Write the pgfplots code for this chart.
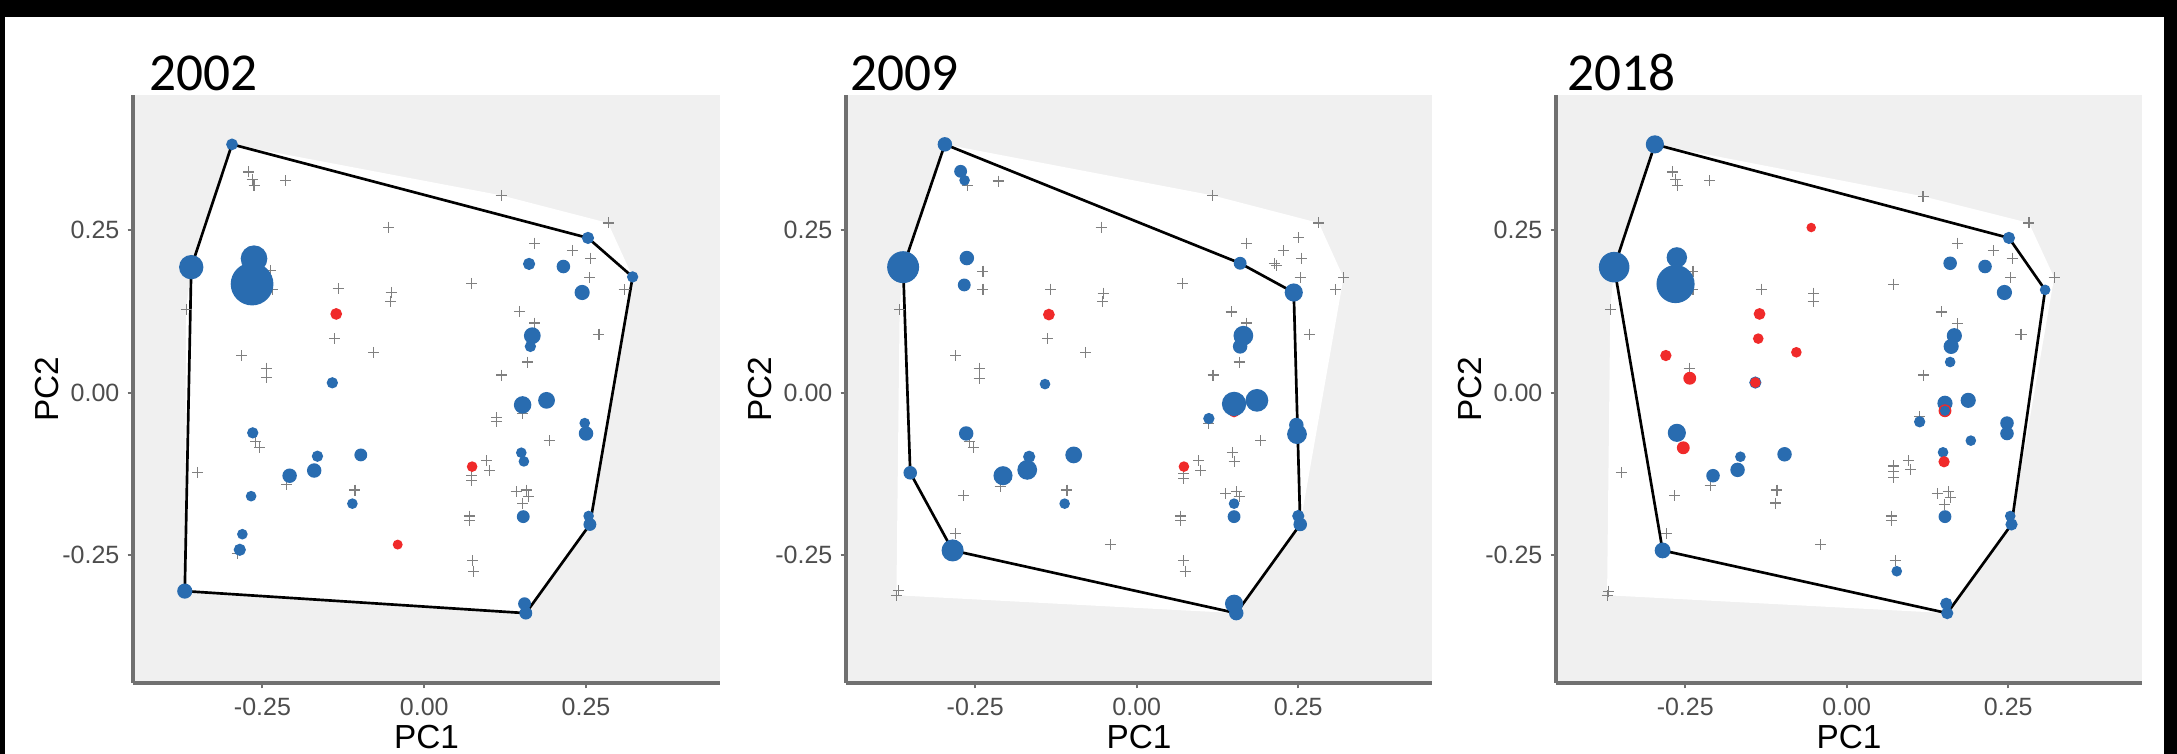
\documentclass[border=0pt]{standalone}
\usepackage{pgfplots}
\pgfplotsset{compat=1.18}
\usepackage{fontspec}
\newfontfamily\arial{Liberation Sans}
\newfontfamily\calibri{Carlito}
\definecolor{bggray}{RGB}{240,240,240}
\definecolor{axgray}{RGB}{112,112,112}
\definecolor{tickgray}{RGB}{77,77,77}
\definecolor{crossgray}{RGB}{128,128,128}
\definecolor{cblue}{RGB}{41,108,176}
\definecolor{cred}{RGB}{240,42,42}
\pgfplotsset{
 panel/.style={
  scale only axis, height=176.4pt, width=175.8pt, anchor=south west,
  xmin=-0.45, xmax=0.457, ymin=-0.447, ymax=0.458,
  axis x line*=bottom, axis y line*=left,
  axis line style={line width=1pt, draw=axgray, -},
  axis background/.style={fill=bggray},
  xtick={-0.25,0,0.25}, xticklabels={-0.25,0.00,0.25},
  ytick={-0.25,0,0.25}, yticklabels={-0.25,0.00,0.25},
  tick align=outside, major tick length=1.6pt,
  tick style={line width=0.6pt, draw=axgray},
  ticklabel style={font=\fontsize{7.5}{9}\selectfont\arial, text=tickgray, inner sep=1pt},
  xticklabel style={yshift=-1.6pt},
  yticklabel style={xshift=-1.3pt},
  xlabel={PC1}, ylabel={PC2},
  label style={font=\fontsize{10}{12}\selectfont\arial, text=black},
  xlabel style={at={([yshift=-16.2pt]axis description cs:0.5,0)}, anchor=center},
  ylabel style={at={([xshift=-25.8pt]axis description cs:0,0.5)}, anchor=center},
 },
 hullw/.style={fill=white, draw=none, mark=none},
 hullb/.style={black, line width=0.8pt, line join=round, mark=none},
 crosses/.style={only marks, mark=+, mark size=1.65pt, draw=crossgray, mark options={line width=0.32pt, draw=crossgray}},
 bluepts/.style={scatter, only marks, mark=*, point meta=explicit,
   scatter/use mapped color={draw=cblue, fill=cblue},
   visualization depends on={0.345*\thisrow{r} \as \rad},
   scatter/@pre marker code/.append style={/tikz/mark size=\rad}},
 redpts/.style={scatter, only marks, mark=*, point meta=explicit,
   scatter/use mapped color={draw=cred, fill=cred},
   visualization depends on={0.345*\thisrow{r} \as \rad},
   scatter/@pre marker code/.append style={/tikz/mark size=\rad}},
}
\begin{document}
\begin{tikzpicture}
\useasboundingbox (0,0) rectangle (653.1pt,226.2pt);
\fill[black] (0,0) rectangle (653.1pt,226.2pt);
\fill[white] (1.5pt,0) rectangle (649.2pt,221.1pt);
\node[anchor=base west, inner sep=0pt, font=\fontsize{16}{19}\selectfont\calibri] at (44.7pt,198.9pt) {2002};
\node[anchor=base west, inner sep=0pt, font=\fontsize{16}{19}\selectfont\calibri] at (255pt,198.9pt) {2009};
\node[anchor=base west, inner sep=0pt, font=\fontsize{16}{19}\selectfont\calibri] at (470.1pt,198.9pt) {2018};
% ---------------- 2002 ----------------
\begin{axis}[panel, at={(39.9pt,21.3pt)}, width=176.1pt]
\addplot[hullw] coordinates {(-0.297,0.382) (0.119,0.3035) (0.284,0.261) (0.322,0.178) (0.256,-0.203) (0.157,-0.3395) (-0.370,-0.3056) (-0.368,0.1276) (-0.360,0.193) (-0.297,0.382)};
\addplot[hullb] coordinates {(-0.297,0.382) (0.253,0.238) (0.322,0.178) (0.256,-0.203) (0.157,-0.3395) (-0.370,-0.3056) (-0.360,0.193) (-0.297,0.382)};
\addplot[crosses] table {
x y
-0.271 0.3395
-0.266 0.328
-0.263 0.319
-0.214 0.326
0.119 0.3035
-0.055 0.2546
0.284 0.261
0.171 0.230
0.229 0.219
0.257 0.207
0.256 0.177
0.0735 0.168
-0.133 0.160
-0.051 0.154
0.309 0.158
-0.238 0.188
-0.234 0.159
-0.368 0.1276
-0.052 0.140
-0.138 0.083
-0.078 0.062
-0.282 0.057
-0.244 0.0376
-0.244 0.023
0.147 0.125
0.171 0.107
0.160 0.047
0.120 0.027
0.269 0.089
0.270 0.090
0.112 -0.0386
0.112 -0.045
0.193 -0.074
-0.260 -0.0756
-0.254 -0.084
-0.350 -0.123
-0.213 -0.1415
-0.107 -0.150
0.0967 -0.105
0.101 -0.120
0.0735 -0.127
0.0735 -0.135
0.142 -0.152
0.158 -0.150
0.161 -0.160
0.152 -0.171
0.0706 -0.190
0.0706 -0.197
-0.289 -0.247
0.0747 -0.259
0.0765 -0.275
0.152 -0.032
};
\addplot[bluepts] table[meta=r] {
x y r
-0.297 0.382 4.5
-0.360 0.193 10
-0.263 0.206 11
-0.266 0.167 18
0.253 0.238 4.7
0.322 0.178 4.3
0.162 0.198 4.7
0.215 0.194 5.3
0.244 0.154 6
-0.142 0.015 4.3
0.167 0.0875 6.7
0.164 0.071 4.3
0.152 -0.019 7
0.189 -0.012 6.7
0.248 -0.047 4
0.250 -0.063 5.7
-0.265 -0.062 4.3
-0.165 -0.098 4.3
-0.098 -0.096 5
-0.170 -0.120 5.7
-0.208 -0.128 5.7
0.150 -0.0926 4
0.154 -0.106 4
-0.2675 -0.1595 4
-0.111 -0.171 4
0.153 -0.191 5
0.254 -0.190 4
0.256 -0.203 5
-0.281 -0.218 4
-0.285 -0.242 4.7
-0.370 -0.3056 6
0.155 -0.325 5
0.157 -0.3395 5
};
\addplot[redpts] table[meta=r] {
x y r
-0.136 0.121 4.5
0.074 -0.114 4
-0.041 -0.234 3.7
};
\end{axis}
% ---------------- 2009 ----------------
\begin{axis}[panel, at={(253.8pt,21.3pt)}]
\addplot[hullw] coordinates {(-0.297,0.382) (0.117,0.3035) (0.2817,0.261) (0.320,0.177) (0.253,-0.203) (0.154,-0.3395) (-0.372,-0.312) (-0.367,0.1276) (-0.3616,0.193) (-0.297,0.382)};
\addplot[hullb] coordinates {(-0.297,0.382) (0.160,0.199) (0.243,0.154) (0.253,-0.203) (0.154,-0.3395) (-0.285,-0.243) (-0.3506,-0.1235) (-0.3616,0.193) (-0.297,0.382)};
\addplot[crosses] table {
x y
-0.262 0.318
-0.2146 0.3256
0.117 0.3035
-0.055 0.2546
0.2817 0.261
0.1695 0.230
0.251 0.238
0.227 0.219
0.255 0.207
0.213 0.198
0.216 0.196
0.253 0.177
0.320 0.177
0.308 0.158
-0.238 0.187
-0.238 0.159
-0.133 0.159
-0.052 0.153
0.0713 0.168
-0.367 0.1276
-0.053 0.140
-0.138 0.083
-0.079 0.062
-0.280 0.057
-0.244 0.0376
-0.244 0.022
0.146 0.124
0.1695 0.107
0.1585 0.047
0.118 0.027
0.267 0.089
0.268 0.090
0.192 -0.074
-0.259 -0.0756
-0.253 -0.084
0.0957 -0.105
0.099 -0.120
0.073 -0.124
0.073 -0.132
0.148 -0.092
0.1506 -0.106
-0.2116 -0.145
-0.108 -0.150
0.138 -0.155
0.155 -0.153
0.1585 -0.160
0.068 -0.190
0.068 -0.197
-0.280 -0.217
-0.041 -0.234
0.073 -0.259
0.075 -0.275
-0.369 -0.3045
-0.372 -0.312
-0.268 -0.159
0.1116 -0.047
};
\addplot[redpts] table[meta=r] {
x y r
-0.136 0.120 4.5
0.073 -0.114 4
0.1506 -0.030 4
};
\addplot[bluepts] table[meta=r] {
x y r
-0.297 0.382 5.7
-0.2726 0.3405 5
-0.2665 0.3267 4
-0.3616 0.193 13.3
-0.263 0.207 5.7
-0.267 0.1656 5
0.160 0.199 5
0.243 0.154 7.3
-0.142 0.013 4
0.165 0.0875 8
0.160 0.071 5.7
0.1506 -0.0175 10
0.186 -0.012 9.3
0.1116 -0.040 4.3
0.247 -0.050 5.7
0.248 -0.064 8
-0.264 -0.063 5.7
-0.1665 -0.0988 4.7
-0.0976 -0.096 6.7
-0.1695 -0.119 8
-0.207 -0.128 7.7
-0.3506 -0.1235 5.3
-0.1116 -0.171 4
0.1506 -0.171 4
0.1506 -0.191 5
0.250 -0.190 4.7
0.253 -0.203 5.3
-0.285 -0.243 9
0.1506 -0.325 7.3
0.154 -0.3395 5.7
};
\end{axis}
% ---------------- 2018 ----------------
\begin{axis}[panel, at={(466.8pt,21.3pt)}]
\addplot[hullw] coordinates {(-0.297,0.382) (0.118,0.302) (0.282,0.261) (0.321,0.177) (0.255,-0.203) (0.1555,-0.3395) (-0.371,-0.312) (-0.366,0.1276) (-0.360,0.193) (-0.297,0.382)};
\addplot[hullb] coordinates {(-0.297,0.382) (0.251,0.238) (0.307,0.158) (0.255,-0.203) (0.1555,-0.3395) (-0.285,-0.243) (-0.360,0.193) (-0.297,0.382)};
\addplot[crosses] table {
x y
-0.2695 0.3395
-0.265 0.328
-0.262 0.319
-0.212 0.326
0.118 0.302
0.282 0.261
0.171 0.230
0.227 0.219
0.256 0.207
0.254 0.177
0.321 0.177
-0.238 0.187
-0.238 0.159
-0.132 0.159
-0.051 0.153
0.073 0.167
-0.366 0.1276
-0.052 0.140
-0.244 0.0376
0.146 0.124
0.171 0.106
0.119 0.027
0.2695 0.089
0.2705 0.090
0.1128 -0.037
-0.349 -0.123
0.073 -0.113
0.073 -0.122
0.073 -0.131
0.096 -0.105
0.099 -0.119
-0.2116 -0.143
-0.108 -0.150
-0.266 -0.159
-0.110 -0.170
0.140 -0.155
0.157 -0.153
0.160 -0.161
0.151 -0.172
0.069 -0.190
0.069 -0.197
-0.279 -0.217
-0.040 -0.234
0.075 -0.259
-0.369 -0.3056
-0.371 -0.312
};
\addplot[bluepts] table[meta=r] {
x y r
-0.297 0.382 7.3
-0.360 0.193 12.7
-0.263 0.208 8.3
-0.265 0.167 16
0.251 0.238 4.7
0.307 0.158 4
0.160 0.199 5.3
0.214 0.194 5.3
0.244 0.154 6
-0.1415 0.0154 4.7
0.1665 0.0875 6
0.1616 0.071 6
0.160 0.047 4
0.152 -0.0165 6
0.188 -0.012 6
0.1128 -0.045 4.3
0.248 -0.047 5.3
0.248 -0.063 5.3
0.192 -0.074 4
-0.263 -0.062 7.3
-0.1646 -0.0988 4
-0.0963 -0.095 5.7
-0.169 -0.119 5.7
-0.207 -0.128 5.3
0.149 -0.092 4
0.152 -0.191 5
0.253 -0.190 4
0.255 -0.203 4.7
-0.285 -0.243 6.3
0.0774 -0.275 4
0.154 -0.325 4.7
0.1555 -0.3395 4.7
};
\addplot[redpts] table[meta=r] {
x y r
-0.055 0.254 3.5
-0.135 0.121 4.5
-0.137 0.083 4
-0.078 0.062 4
-0.280 0.057 4.3
-0.243 0.022 5
-0.1415 0.0154 4
0.152 -0.028 5
-0.253 -0.085 5
0.1506 -0.1065 4.3
};
\addplot[bluepts] table[meta=r] {
x y r
0.152 -0.028 3.8
};
\end{axis}
\end{tikzpicture}
\end{document}
